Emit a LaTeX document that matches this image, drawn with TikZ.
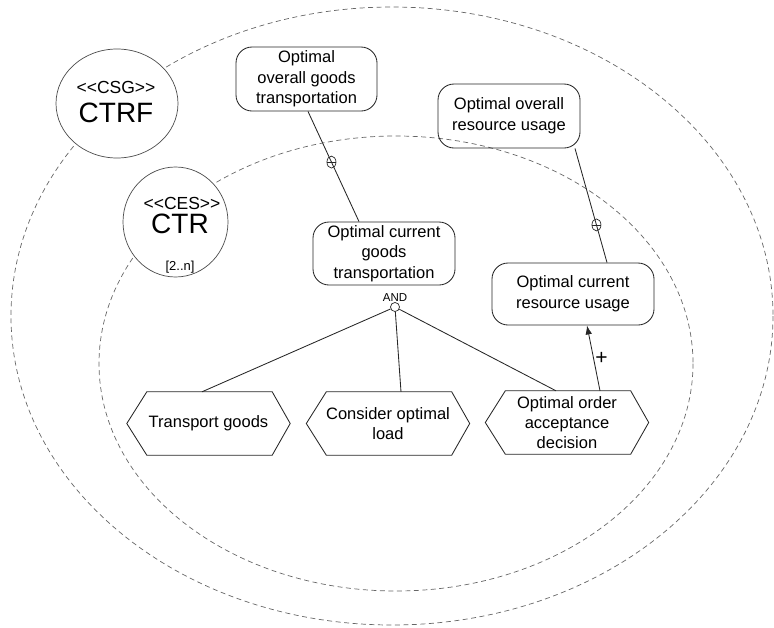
\documentclass[tikz,border=0pt]{standalone}
\usepackage{fontspec}
\setmainfont{Liberation Sans}
\usetikzlibrary{arrows.meta,shapes.geometric}
\begin{document}
\begin{tikzpicture}[x=1pt,y=-1pt,
  dashring/.style={draw=black!60, line width=0.7pt, dash pattern=on 5pt off 3.5pt},
  bubble/.style={ellipse, draw=black!70, line width=0.7pt, fill=white, inner sep=0pt},
  goalbox/.style={draw=black!85, line width=0.85pt, rounded corners=16pt, align=center,
    inner sep=0pt, font=\fontsize{16.5}{20.7}\selectfont},
  hexnode/.style={minimum width=163pt, minimum height=63pt, align=center, inner sep=0pt,
    font=\fontsize{16.5}{20.3}\selectfont},
  hexline/.style={draw=black!85, line width=0.85pt, line join=miter},
  link/.style={draw=black!85, line width=0.85pt},
  refmark/.style={ellipse, draw=black!85, line width=0.7pt, inner sep=0pt,
    minimum width=9pt, minimum height=12pt,
    path picture={\draw[line width=0.7pt] (path picture bounding box.west) -- (path picture bounding box.east);}}
]
\useasboundingbox (0,0) rectangle (774,627);

% scopes
\draw[dashring] (392,316) ellipse [x radius=381, y radius=309];
\draw[dashring] (396,363.5) ellipse [x radius=297, y radius=227.5];

% role bubbles
\node[bubble, minimum width=122pt, minimum height=109pt] (csg) at (117,103.5) {};
\node[font=\fontsize{17.5}{17.5}\selectfont] (csgtag) at (116,87) {<\kern0pt<CSG>\kern0pt>};
\node[font=\fontsize{28}{28}\selectfont] (csgname) at (116,113) {CTRF};

\node[bubble, minimum width=105pt, minimum height=110pt] (ces) at (175.5,222) {};
\node[font=\fontsize{17.5}{17.5}\selectfont] (cestag) at (182,203) {<\kern0pt<CES>\kern0pt>};
\node[font=\fontsize{28}{28}\selectfont] (cesname) at (180,224) {CTR};
\node[font=\fontsize{13}{13}\selectfont] (cesmult) at (180,267) {[2..n]};

% goals
\node[goalbox, minimum width=141pt, minimum height=64pt] (og) at (306.5,79)
  {Optimal\\overall goods\\transportation};
\node[goalbox, minimum width=142pt, minimum height=64pt] (or) at (509,116)
  {Optimal overall\\resource usage};
\node[goalbox, minimum width=142pt, minimum height=63pt] (cg) at (384,253.5)
  {Optimal current\\goods\\transportation};
\node[goalbox, minimum width=162pt, minimum height=62pt] (cr) at (573,294)
  {Optimal current\\resource usage};

% tasks
\node[hexnode] (tg) at (208.5,423.5) {Transport goods};
\node[hexnode] (co) at (388,423.5) {Consider optimal\\load};
\node[hexnode] (oa) at (567,422.5) {Optimal order\\acceptance\\decision};
\foreach \h in {tg,co,oa}
  \draw[hexline] (\h.west) -- ([xshift=20pt]\h.north west) -- ([xshift=-18pt]\h.north east)
    -- (\h.east) -- ([xshift=-18pt]\h.south east) -- ([xshift=20pt]\h.south west) -- cycle;

% refinement links
\draw[link] ([xshift=1.5pt]og.south) -- node[refmark, pos=0.46] (m1) {} ([xshift=-25pt]cg.north);
\draw[link] ([xshift=66pt]or.south) -- node[refmark, pos=0.67] (m2) {} ([xshift=34pt]cr.north);

% AND decomposition
\node[circle, draw=black!85, line width=0.7pt, inner sep=0pt, minimum size=9pt] (j) at (395,307) {};
\node[font=\fontsize{11.5}{11.5}\selectfont, inner sep=0pt] (andtag) at (395,297.5) {AND};
\draw[link] (j) -- ([xshift=-6.5pt]tg.north);
\draw[link] (j) -- ([xshift=13pt]co.north);
\draw[link] (j) -- ([xshift=-11pt]oa.north);

% contribution
\draw[link, -{Latex[length=9pt,width=6.5pt]}] ([xshift=33pt]oa.north)
  -- node[right, pos=0.5, inner sep=1.5pt, font=\fontsize{21}{21}\selectfont] (plus) {+}
  ([xshift=14pt]cr.south);
\end{tikzpicture}
\end{document}
